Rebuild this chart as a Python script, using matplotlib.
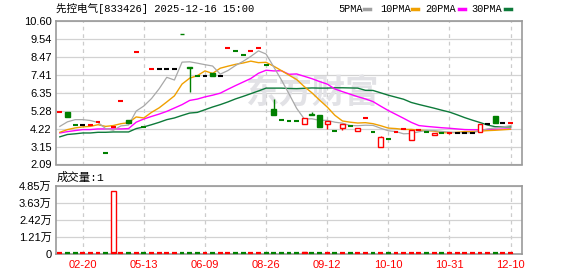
import matplotlib
matplotlib.use('Agg')
import matplotlib.pyplot as plt
from matplotlib.patches import Rectangle
from matplotlib.lines import Line2D

plt.rcParams['font.family'] = ['Liberation Sans', 'Noto Sans CJK SC', 'DejaVu Sans']

# ---------------------------------------------------------------- data
tick_idx = [3, 11, 19, 27, 35, 43, 51, 59]
tick_labels = ['02-20', '05-13', '06-09', '08-26', '09-12', '10-10', '10-31', '12-10']

opens = [5.20, 5.22, 4.44, 4.44, 4.45, 4.61, 2.78, 4.33, 5.87, 4.71,
         8.75, 4.30, 7.75, 7.75, 7.75, 7.75, 9.85, 7.87, 7.33, 7.33,
         7.51, 7.33, 8.98, 8.81, 8.59, 8.81, 8.98, 8.00, 5.38, 4.75,
         4.69, 4.65, 4.49, 5.09, 5.02, 4.49, 4.10, 4.27, 4.35, 4.06,
         4.85, 4.04, 3.13, 3.61, 4.02, 4.20, 3.55, 4.16, 4.02, 3.82,
         3.95, 3.98, 3.98, 3.98, 3.98, 4.02, 4.51, 4.97, 4.53, 4.56]
highs = [5.20, 5.22, 4.44, 4.44, 4.45, 4.61, 2.78, 4.33, 5.87, 4.71,
         8.75, 4.30, 7.75, 7.75, 7.75, 7.75, 9.85, 7.87, 7.33, 7.33,
         7.51, 7.33, 8.98, 8.81, 8.59, 8.81, 8.98, 8.00, 5.99, 4.75,
         4.69, 4.65, 4.85, 5.22, 5.02, 4.69, 4.10, 4.52, 4.35, 4.26,
         4.85, 4.04, 3.80, 3.61, 4.02, 4.20, 4.14, 4.16, 4.02, 3.96,
         3.95, 3.98, 3.98, 3.98, 3.98, 4.51, 4.51, 4.97, 4.53, 4.56]
lows = [5.20, 4.88, 4.44, 4.44, 4.45, 4.61, 2.78, 4.33, 5.87, 4.55,
        8.75, 4.30, 7.75, 7.75, 7.75, 7.75, 9.81, 6.36, 7.33, 7.33,
        7.33, 7.33, 8.98, 8.81, 8.59, 8.81, 8.98, 8.00, 5.00, 4.75,
        4.69, 4.65, 4.49, 5.02, 4.29, 4.20, 4.10, 4.16, 4.35, 4.06,
        4.85, 4.04, 3.13, 3.61, 4.02, 4.20, 3.55, 4.16, 4.02, 3.82,
        3.95, 3.90, 3.98, 3.98, 3.98, 4.02, 4.51, 4.53, 4.53, 4.56]
closes = [5.20, 4.88, 4.44, 4.44, 4.45, 4.61, 2.78, 4.33, 5.87, 4.55,
          8.75, 4.30, 7.75, 7.75, 7.75, 7.75, 9.81, 7.84, 7.33, 7.33,
          7.33, 7.33, 8.98, 8.81, 8.59, 8.81, 8.98, 8.00, 5.00, 4.75,
          4.69, 4.65, 4.85, 5.02, 4.29, 4.69, 4.10, 4.52, 4.35, 4.26,
          4.85, 4.04, 3.70, 3.61, 4.02, 4.20, 4.14, 4.16, 4.02, 3.96,
          3.95, 3.98, 3.98, 3.98, 3.98, 4.51, 4.51, 4.53, 4.53, 4.56]
volumes = [0, 0, 0, 0, 0, 0, 0, 44700, 0, 0,
           0, 0, 0, 0, 0, 0, 0, 0, 0, 0,
           0, 0, 0, 0, 0, 0, 0, 0, 0, 0,
           0, 0, 1500, 0, 0, 0, 0, 0, 0, 0,
           0, 0, 0, 0, 0, 0, 0, 0, 0, 0,
           0, 0, 0, 0, 0, 0, 0, 0, 0, 0]

ma5 = [4.35, 4.62, 4.75, 4.75, 4.70, 4.58, 4.22, 4.12, 4.38, 4.43,
       5.26, 5.56, 6.00, 6.58, 7.26, 7.10, 8.16, 8.18, 8.10, 8.01,
       7.93, 7.45, 7.66, 7.96, 8.21, 8.50, 8.83, 8.64, 7.88, 7.11,
       6.28, 5.42, 4.79, 4.80, 4.71, 4.71, 4.60, 4.54, 4.40, 4.39,
       4.42, 4.41, 4.24, 4.09, 4.04, 3.91, 3.93, 4.03, 4.11, 4.10,
       4.05, 4.01, 3.98, 3.97, 3.97, 4.10, 4.20, 4.26, 4.32, 4.39]
ma10 = [4.00, 4.16, 4.26, 4.32, 4.35, 4.45, 4.35, 4.40, 4.51, 4.57,
        4.91, 4.85, 5.18, 5.45, 5.80, 6.16, 6.86, 7.21, 7.36, 7.64,
        7.49, 7.80, 7.92, 8.03, 8.11, 8.22, 8.13, 8.15, 7.92, 7.66,
        7.39, 7.13, 6.71, 6.34, 5.91, 5.50, 5.01, 4.67, 4.60, 4.55,
        4.57, 4.51, 4.39, 4.25, 4.22, 4.17, 4.17, 4.13, 4.10, 4.07,
        3.98, 3.97, 4.00, 4.04, 4.04, 4.07, 4.10, 4.12, 4.15, 4.18]
ma20 = [3.96, 4.04, 4.10, 4.16, 4.16, 4.20, 4.20, 4.20, 4.20, 4.22,
        4.60, 4.79, 4.94, 5.08, 5.24, 5.44, 5.64, 5.89, 5.97, 6.10,
        6.20, 6.32, 6.55, 6.77, 6.98, 7.19, 7.50, 7.68, 7.64, 7.65,
        7.44, 7.46, 7.32, 7.18, 7.01, 6.86, 6.57, 6.41, 6.26, 6.11,
        5.98, 5.82, 5.55, 5.29, 5.06, 4.83, 4.59, 4.40, 4.35, 4.31,
        4.27, 4.24, 4.20, 4.16, 4.15, 4.15, 4.16, 4.18, 4.19, 4.20]
ma30 = [3.73, 3.87, 3.91, 3.96, 3.96, 4.00, 4.00, 4.02, 4.02, 4.02,
        4.22, 4.32, 4.45, 4.59, 4.75, 4.85, 5.00, 5.14, 5.18, 5.34,
        5.50, 5.64, 5.80, 5.98, 6.13, 6.29, 6.45, 6.62, 6.62, 6.62,
        6.60, 6.59, 6.61, 6.63, 6.62, 6.62, 6.64, 6.64, 6.63, 6.62,
        6.49, 6.48, 6.34, 6.20, 6.08, 5.96, 5.77, 5.65, 5.54, 5.43,
        5.31, 5.20, 5.04, 4.87, 4.72, 4.58, 4.43, 4.33, 4.32, 4.32]

price_ticks = [2.09, 3.15, 4.22, 5.28, 6.35, 7.41, 8.47, 9.54, 10.60]
vol_ticks = [0, 12100, 24200, 36300, 48500]
vol_labels = ['0', '1.21万', '2.42万', '3.63万', '4.85万']

UP = '#ff0000'
DOWN = '#008000'
FLAT = '#000000'
n = len(closes)

# ---------------------------------------------------------------- figure
W, H = 578, 276
fig = plt.figure(figsize=(W / 100, H / 100), dpi=100)


def box(x0, y0, x1, y1):
    return [x0 / W, 1 - y1 / H, (x1 - x0) / W, (y1 - y0) / H]


ax = fig.add_axes(box(56, 21, 522, 164.5))
axv = fig.add_axes(box(56, 186, 522, 254.3))


def style(a):
    for s in a.spines.values():
        s.set_color('#999999')
        s.set_linewidth(1.2)
    a.set_xlim(-0.5, n + 0.5)
    a.tick_params(length=0, labelsize=8, pad=3)
    for t in tick_idx:
        a.axvline(t, color='#cccccc', lw=0.9, ls=(0, (3, 3)), zorder=1)


style(ax)
style(axv)

ax.set_ylim(price_ticks[0], price_ticks[-1])
ax.set_yticks(price_ticks)
ax.set_yticklabels(['%.2f' % v for v in price_ticks])
for v in price_ticks:
    ax.axhline(v, color='#d2d2d2', lw=0.9, zorder=1)
ax.set_xticks([])

ax.text(0.405, 0.49, '东方财富', transform=ax.transAxes, fontsize=24,
        family=['Noto Sans CJK SC'], fontweight='bold', color='#e2e2e6',
        va='center', ha='left', zorder=1)

# moving averages
xs = list(range(n))
ax.plot(xs, ma30, color='#0d7a3a', lw=1.0, zorder=3)
ax.plot(xs, ma20, color='#ff00ff', lw=1.0, zorder=3)
ax.plot(xs, ma10, color='#f0a000', lw=1.0, zorder=3)
ax.plot(xs, ma5, color='#a8a8a8', lw=0.9, zorder=3)

# candles
colors = []
for i in range(n):
    o, h, l, c = opens[i], highs[i], lows[i], closes[i]
    if c > o:
        col = UP
    elif c < o:
        col = DOWN
    else:
        prev = closes[i - 1] if i > 0 else c - 1
        col = UP if c > prev else (DOWN if c < prev else FLAT)
    colors.append(col)
    w = 0.64
    if h > l:
        ax.vlines(i, l, h, color=col, lw=1.0, zorder=4)
    if c != o:
        lo, hi = min(o, c), max(o, c)
        face = 'white' if col == UP else col
        ax.add_patch(Rectangle((i - w / 2, lo), w, hi - lo, facecolor=face,
                               edgecolor=col, lw=1.0, zorder=5))
    else:
        ax.hlines(c, i - w / 2, i + w / 2, color=col, lw=1.5, zorder=5)

# volume
axv.set_ylim(0, vol_ticks[-1])
axv.set_yticks(vol_ticks)
axv.set_yticklabels(vol_labels)
for v in vol_ticks:
    axv.axhline(v, color='#d2d2d2', lw=0.9, zorder=1)
base = 600  # the thin dash every day shows on the base line
for i in range(n):
    col = DOWN if colors[i] == DOWN else UP
    face = 'white' if col == UP and volumes[i] > 3000 else col
    axv.add_patch(Rectangle((i - 0.32, 0), 0.64, volumes[i], facecolor=face,
                            edgecolor=col, lw=1.0, zorder=4))
    axv.hlines(base, i - 0.32, i + 0.32, color=col, lw=1.6, zorder=6,
               clip_on=False)
axv.set_xticks(tick_idx)
axv.set_xticklabels(tick_labels, color='#ff0000', fontsize=8)
axv.tick_params(axis='x', pad=4)

# header texts
mono = ['Liberation Mono', 'Noto Sans CJK SC']
fig.text(56 / W, 1 - 9 / H, '先控电气[833426] 2025-12-16 15:00', family=mono,
         fontsize=7.6, va='center', ha='left')
legend = [('5PMA', 338, 364, '#a0a0a0'), ('10PMA', 380, 412, '#f0a000'),
          ('20PMA', 425, 459, '#ff00ff'), ('30PMA', 471, 505, '#0d7a3a')]
for name, tx, mx, col in legend:
    fig.text(tx / W, 1 - 9 / H, name, family=['Liberation Mono'],
             fontsize=7.4, va='center', ha='left')
    fig.add_artist(Line2D([mx / W, (mx + 5.5) / W], [1 - 9 / H, 1 - 9 / H],
                          color=col, lw=2.5, transform=fig.transFigure))
fig.text(57 / W, 1 - 177 / H, '成交量:1', family=mono, fontsize=8.2,
         va='center', ha='left')

fig.savefig('out.png', dpi=100)
